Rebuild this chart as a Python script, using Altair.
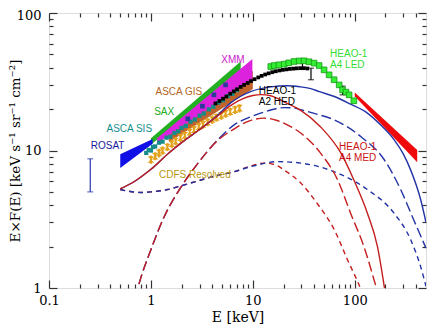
import altair as alt
import pandas as pd

# ---------------- values ----------------
# model curves (E in keV, E*F(E))
bs_E = [0.5, 0.7, 1.0, 1.5, 2.0, 3.0, 4.5, 6.1, 7.6, 9.5, 15, 22, 29.5, 37, 45, 63, 90, 133, 180, 243, 300, 354, 443, 500]
bs_y = [5.25, 6.0, 7.3, 9.6, 11.4, 14.2, 18.0, 22.3, 24.8, 26.8, 29.0, 29.6, 29.0, 28.2, 26.8, 24.7, 21.8, 18.7, 15.3, 12.0, 9.4, 7.2, 4.4, 3.0]

rs_E = [0.5, 0.7, 1.0, 1.5, 2.0, 3.0, 4.5, 6.1, 8.0, 10, 12, 15, 18, 22, 29.5, 46, 73, 98, 133, 167, 200]
rs_y = [5.25, 6.0, 7.3, 9.6, 11.4, 14.2, 17.8, 21.3, 23.8, 25.1, 25.5, 25.0, 23.6, 21.9, 19.6, 14.9, 9.6, 6.1, 3.5, 2.0, 0.9]

bl_E = [0.7, 0.8, 1.0, 1.35, 2.0, 2.9, 4.5, 6.5, 9.0, 11, 15, 20, 25, 29.5, 40, 63, 115, 194, 282, 381, 500]
bl_y = [0.85, 1.2, 1.9, 3.3, 5.5, 8.1, 11.9, 15.3, 17.3, 18.3, 19.7, 20.5, 20.4, 19.8, 18.6, 16.7, 12.6, 8.6, 5.2, 3.1, 1.95]

rl_E = [0.7, 0.8, 1.0, 1.35, 2.0, 2.9, 4.5, 6.5, 9.0, 12.9, 17, 22, 29.5, 46, 68, 91, 123, 167, 185]
rl_y = [0.85, 1.2, 1.9, 3.3, 5.5, 8.1, 11.8, 14.3, 16.3, 17.2, 16.6, 15.3, 13.4, 9.6, 6.1, 3.5, 2.0, 0.95, 0.75]

bd_E = [0.5, 0.8, 1.0, 1.46, 2.0, 3.1, 4.5, 6.5, 10, 17.5, 29.5, 63, 133, 243, 354, 443, 500]
bd_y = [5.2, 4.95, 5.0, 5.2, 5.55, 6.1, 6.6, 7.0, 7.7, 8.3, 8.1, 7.0, 5.2, 3.5, 2.24, 1.43, 1.03]

rd_E = [0.5, 0.8, 1.0, 1.46, 2.0, 3.1, 4.5, 6.5, 10, 13, 17, 20.3, 29.5, 43, 63, 85, 115, 130]
rd_y = [5.2, 4.95, 5.0, 5.2, 5.55, 6.1, 6.6, 7.0, 7.8, 8.1, 7.8, 7.2, 5.8, 4.1, 2.65, 1.6, 0.97, 0.75]

# bands (E range, lower and upper edge)
rosat_E = [0.5, 1.04]; rosat_lo = [7.45, 11.2]; rosat_hi = [9.4, 12.1]
gis_E = [1.5, 10.0];  gis_lo = [11.5, 28.0];  gis_hi = [13.3, 38.0]
sax_E = [1.0, 7.6];   sax_lo = [11.0, 38.6];  sax_hi = [12.3, 44.4]
xmm_E = [1.15, 9.9];  xmm_lo = [11.3, 32.7];  xmm_hi = [12.3, 46.3]
med_E = [100, 410];   med_lo = [24.8, 8.2];   med_hi = [26.4, 10.1]

# ROSAT error bar
ros_E = [0.254]; ros_lo = [5.0]; ros_hi = [8.7]

# ASCA SIS points
sis_E = [0.9, 0.95, 1.0, 1.05, 1.1, 1.2, 1.3, 1.42, 1.55, 1.7, 1.85, 2.0, 2.2, 2.45, 2.7, 3.0, 3.3, 3.7, 4.1, 4.6, 5.1, 5.7, 6.3, 7.0]
sis_y = [9.6, 10.1, 10.0, 10.6, 10.7, 11.4, 11.6, 12.4, 12.6, 13.4, 13.8, 14.6, 15.1, 16.2, 16.8, 17.9, 18.6, 19.9, 20.8, 22.3, 23.2, 24.9, 25.8, 27.5]

# gold points with error bars
au_E = [1.0, 1.1, 1.2, 1.3, 1.45, 1.6, 1.75, 1.95, 2.15, 2.4, 2.65, 2.95, 3.25, 3.6, 4.0, 4.4, 4.9, 5.4, 6.0, 6.7, 7.4]
au_y = [8.6, 9.1, 9.6, 10.0, 10.6, 11.2, 11.7, 12.4, 12.9, 13.6, 14.2, 14.9, 15.5, 16.1, 16.8, 17.4, 18.0, 18.6, 19.2, 19.8, 20.3]
au_lo = [8.0, 8.5, 8.9, 9.3, 9.9, 10.4, 10.9, 11.5, 12.0, 12.6, 13.2, 13.9, 14.4, 15.0, 15.6, 16.2, 16.7, 17.3, 17.9, 18.4, 18.9]
au_hi = [9.2, 9.7, 10.3, 10.7, 11.3, 12.0, 12.5, 13.3, 13.8, 14.6, 15.2, 15.9, 16.6, 17.2, 18.0, 18.6, 19.3, 19.9, 20.5, 21.2, 21.7]

# navy squares inside the XMM band
nv_E = [2.3, 3.2, 4.15, 5.4]
nv_y = [17.0, 21.0, 25.4, 30.0]

# HEAO-1 A2 HED (black)
blk_E = [4.3, 4.7, 5.1, 5.5, 6.0, 6.5, 7.0, 7.6, 8.2, 8.9, 9.6, 10.4, 11.3, 12.2, 13.2, 14.3, 15.5, 16.8, 18.2, 19.7, 21.3, 23.1, 25.0, 27.0, 29.3, 31.7, 34.3]
blk_y = [22.0, 22.9, 23.8, 24.7, 25.9, 26.9, 27.9, 29.0, 30.0, 31.0, 32.0, 33.0, 34.0, 34.9, 35.7, 36.4, 37.1, 37.7, 38.2, 38.6, 38.9, 39.2, 39.4, 39.6, 39.7, 39.7, 39.5]
blkerr_E = [30.7, 37.2, 76.0]
blkerr_lo = [39.0, 32.7, 25.4]
blkerr_hi = [45.7, 39.7, 29.4]

# HEAO-1 A4 LED (green squares)
led_E = [15, 16.2, 18, 20.3, 22.5, 25.4, 28.5, 31.8, 35.5, 39.9, 44.7, 50, 56, 62.7, 70.3, 75.9, 82, 88, 98]
led_y = [40.8, 41.5, 42.0, 42.5, 43.4, 44.4, 44.8, 44.9, 44.2, 43.2, 41.5, 38.6, 35.5, 32.7, 30.0, 27.6, 26.6, 25.4, 23.0]

# axis ticks
x_major = [0.1, 1, 10, 100]
x_minor = [0.2, 0.3, 0.4, 0.5, 0.6, 0.7, 0.8, 0.9, 2, 3, 4, 5, 6, 7, 8, 9,
           20, 30, 40, 50, 60, 70, 80, 90, 200, 300, 400]
y_major = [1, 10, 100]
y_minor = [2, 3, 4, 5, 6, 7, 8, 9, 20, 30, 40, 50, 60, 70, 80, 90]

BLUE = "#2233a6"
RED = "#c41e1e"
SERIF = "DejaVu Serif"
SANS = "Liberation Sans"

xs = alt.Scale(type="log", domain=[0.1, 500], nice=False)
ys = alt.Scale(type="log", domain=[1, 100], nice=False)


def X(f="E"):
    return alt.X(f"{f}:Q", scale=xs, axis=None)


def Y(f="y"):
    return alt.Y(f"{f}:Q", scale=ys, axis=None)


def line(E, y, color, dash=None):
    df = pd.DataFrame({"E": E, "y": y})
    kw = dict(color=color, strokeWidth=1.4, clip=True, interpolate="monotone")
    if dash:
        kw["strokeDash"] = dash
    return alt.Chart(df).mark_line(**kw).encode(x=X(), y=Y())


def band(E, lo, hi, color):
    df = pd.DataFrame({"E": E, "lo": lo, "hi": hi})
    return alt.Chart(df).mark_area(color=color, opacity=1, clip=True).encode(
        x=X(), y=Y("lo"), y2=alt.Y2("hi:Q"))


def errbars(E, lo, hi, color, width=1.0, cap=None):
    df = pd.DataFrame({"E": E, "lo": lo, "hi": hi})
    base = alt.Chart(df)
    out = [base.mark_rule(color=color, strokeWidth=width, clip=True).encode(
        x=X(), y=Y("lo"), y2=alt.Y2("hi:Q"))]
    if cap:
        out.append(base.mark_tick(orient="horizontal", color=color, size=cap, thickness=1.2).encode(x=X(), y=Y("lo")))
        out.append(base.mark_tick(orient="horizontal", color=color, size=cap, thickness=1.2).encode(x=X(), y=Y("hi")))
    return out


def pts(E, y, **kw):
    df = pd.DataFrame({"E": E, "y": y})
    return alt.Chart(df).mark_point(clip=True, **kw).encode(x=X(), y=Y())


def label(text, E, y, color, align="center"):
    df = pd.DataFrame({"E": [E], "y": [y], "t": [text]})
    return alt.Chart(df).mark_text(font=SANS, fontSize=10, color=color, align=align,
                                   baseline="middle").encode(x=X(), y=Y(), text="t:N")


# ---------------- axes (major/minor, all four sides, ticks inside) ----------------
dummy = pd.DataFrame({"E": bs_E, "y": bs_y})


def axis_layer(xo, yo, xv, yv, size, labelled):
    common = dict(domain=False, grid=False, tickColor="#333", tickWidth=1.2,
                  tickSize=size, offset=-size, labelFlush=False)
    if labelled:
        ax = alt.Axis(orient=xo, values=xv, labels=True, format="~g", labelFont=SERIF,
                      labelFontSize=13, labelColor="black", labelPadding=6,
                      title="E [keV]", titleFont=SERIF, titleFontSize=14,
                      titleFontWeight="normal", titleColor="black", titlePadding=3, **common)
        ay = alt.Axis(orient=yo, values=yv, labels=True, format="~g", labelFont=SERIF,
                      labelFontSize=13, labelColor="black", labelPadding=8,
                      labelOffset={"condition": {"test": "datum.value >= 99", "value": 2}, "value": 0},
                      title="E×F(E) [keV s⁻¹ sr⁻¹ cm⁻²]", titleFont=SERIF, titleFontSize=13.5,
                      titleFontWeight="normal", titleColor="black", titleX=-35,
                      **common)
    else:
        ax = alt.Axis(orient=xo, values=xv, labels=False, title=None, **common)
        ay = alt.Axis(orient=yo, values=yv, labels=False, title=None, **common)
    return alt.Chart(dummy).mark_point(opacity=0).encode(
        x=alt.X("E:Q", scale=xs, axis=ax), y=alt.Y("y:Q", scale=ys, axis=ay))


axes = [
    axis_layer("bottom", "left", x_major, y_major, 8, True),
    axis_layer("bottom", "left", x_minor, y_minor, 4, False),
    axis_layer("top", "right", x_major, y_major, 8, False),
    axis_layer("top", "right", x_minor, y_minor, 4, False),
]

layers = axes + [
    band(gis_E, gis_lo, gis_hi, "#c0622a"),
    band(sax_E, sax_lo, sax_hi, "#22b022"),
    band(xmm_E, xmm_lo, xmm_hi, "#dd22dd"),
    band(rosat_E, rosat_lo, rosat_hi, "#1010e6"),
    band(med_E, med_lo, med_hi, "#ee0a0a"),
]
layers += errbars(ros_E, ros_lo, ros_hi, "#2a3ab0", 1.2, cap=6)
layers += errbars(au_E, au_lo, au_hi, "#e0a020", 2.0)
layers += [
    pts(au_E, au_y, shape="M-1,-1L1,-1L-1,1L1,1Z", size=45, filled=True, color="#e3a21a", opacity=1),
    pts(sis_E, sis_y, shape="square", size=18, filled=True, color="#178a8a", opacity=1),
    pts(nv_E, nv_y, shape="square", size=22, filled=True, color="#2a3a9a", opacity=1),
]
layers += [
    line(rd_E, rd_y, RED, [5, 4]),
    line(bd_E, bd_y, BLUE, [5, 4]),
    line(bl_E, bl_y, BLUE, [10, 4]),
    line(rl_E, rl_y, RED, [10, 4]),
    line(bs_E, bs_y, BLUE),
    line(rs_E, rs_y, RED),
]
layers += [
    pts(blk_E, blk_y, shape="square", size=14, filled=True, color="black", opacity=1),
]
layers += errbars(blkerr_E, blkerr_lo, blkerr_hi, "black", 1.2, cap=6)
layers += [
    pts(led_E, led_y, shape="square", size=32, filled=True, color="#33ee33",
        stroke="#139a13", strokeWidth=0.8, opacity=1),
]
layers += [
    label("XMM", 6.37, 45.9, "#cc22cc"),
    label("ASCA GIS", 1.88, 26.7, "#b5651d"),
    label("SAX", 1.35, 18.95, "#22aa22"),
    label("ASCA SIS", 0.613, 14.45, "#17908f"),
    label("ROSAT", 0.376, 10.8, "#1a1a9a"),
    label("CDFS Resolved", 2.70, 6.6, "#b8960c"),
    label("HEAO-1", 11.45, 27.1, "black", "left"),
    label("A2 HED", 11.45, 22.4, "black", "left"),
    label("HEAO-1", 57.3, 50.1, "#33dd33", "left"),
    label("A4 LED", 57.3, 42.0, "#33dd33", "left"),
    label("HEAO-1", 70.2, 10.6, "#cc1111", "left"),
    label("A4 MED", 70.2, 8.75, "#cc1111", "left"),
]

chart = alt.layer(*layers).resolve_axis(x="independent", y="independent").properties(
    width=377, height=275,
    autosize=alt.AutoSizeParams(type="none"),
    padding={"left": 41, "top": 5, "right": 2, "bottom": 40},
).configure_view(stroke="#222", strokeWidth=1.5).configure(background="white")

chart.save("out.html", embed_options={"renderer": "svg", "actions": False})
